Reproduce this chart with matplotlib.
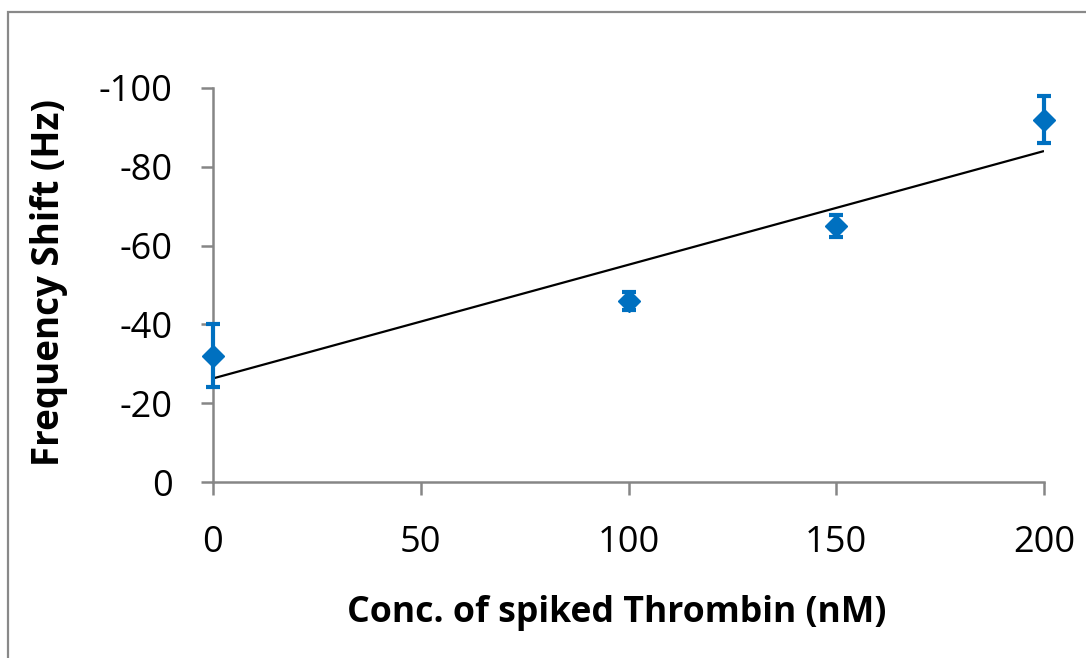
import numpy as np
import matplotlib
matplotlib.use("Agg")
import matplotlib.pyplot as plt
from matplotlib.patches import Rectangle

# Thrombin spike concentration vs. frequency shift
conc_nM = [0, 100, 150, 200]
freq_shift_hz = [-32, -46, -65, -92]
shift_err_hz = [8, 2.3, 2.8, 6]
x_ticks = [0, 50, 100, 150, 200]
y_ticks = [0, -20, -40, -60, -80, -100]

plt.rcParams['font.family'] = ['Open Sans', 'DejaVu Sans']
plt.rcParams['axes.unicode_minus'] = False

W, H = 1086, 658
fig = plt.figure(figsize=(W / 100, H / 100), dpi=100)
ax = fig.add_axes([213 / W, 1 - 482 / H, (1044 - 213) / W, (482 - 88) / H])

blue = '#0070C0'
axis_gray = '#868686'

# Linear trend line fitted to the measurements
slope, intercept = np.polyfit(conc_nM, freq_shift_hz, 1)
xs = np.array([0, 200])
ax.plot(xs, slope * xs + intercept, color='black', lw=1.6, zorder=2,
        solid_capstyle='butt')

ax.errorbar(conc_nM, freq_shift_hz, yerr=shift_err_hz, fmt='D', color=blue,
            ms=11, mec=blue, ecolor=blue, elinewidth=3, capsize=4.8,
            capthick=3, zorder=3, clip_on=False)

ax.set_xlim(0, 200)
ax.set_ylim(0, -100)
ax.set_xticks(x_ticks)
ax.set_yticks(y_ticks)
ax.set_xticklabels([str(v) for v in x_ticks])
ax.set_yticklabels([str(v) for v in y_ticks])

for side in ('top', 'right'):
    ax.spines[side].set_visible(False)
for side in ('left', 'bottom'):
    ax.spines[side].set_color(axis_gray)
    ax.spines[side].set_linewidth(1.8)

ax.tick_params(axis='both', direction='out', length=9, width=1.8,
               color=axis_gray, labelsize=26, labelcolor='black')
ax.tick_params(axis='x', pad=22)
ax.tick_params(axis='y', pad=20)

# Axis titles
fig.text(617 / W, 1 - 613 / H, 'Conc. of spiked Thrombin (nM)', fontsize=25.7,
         fontweight='bold', ha='center', va='center')
fig.text(49 / W, 1 - 282 / H, 'Frequency Shift (Hz)', fontsize=26.5,
         fontweight='bold', ha='center', va='center', rotation=90)

# Outer chart frame
fig.patches.append(Rectangle((8 / W, -0.05), 1.1, 1 - 12 / H + 0.05,
                             transform=fig.transFigure, fill=False,
                             edgecolor='#898989', lw=1.6))

fig.savefig('out.png', dpi=100)
